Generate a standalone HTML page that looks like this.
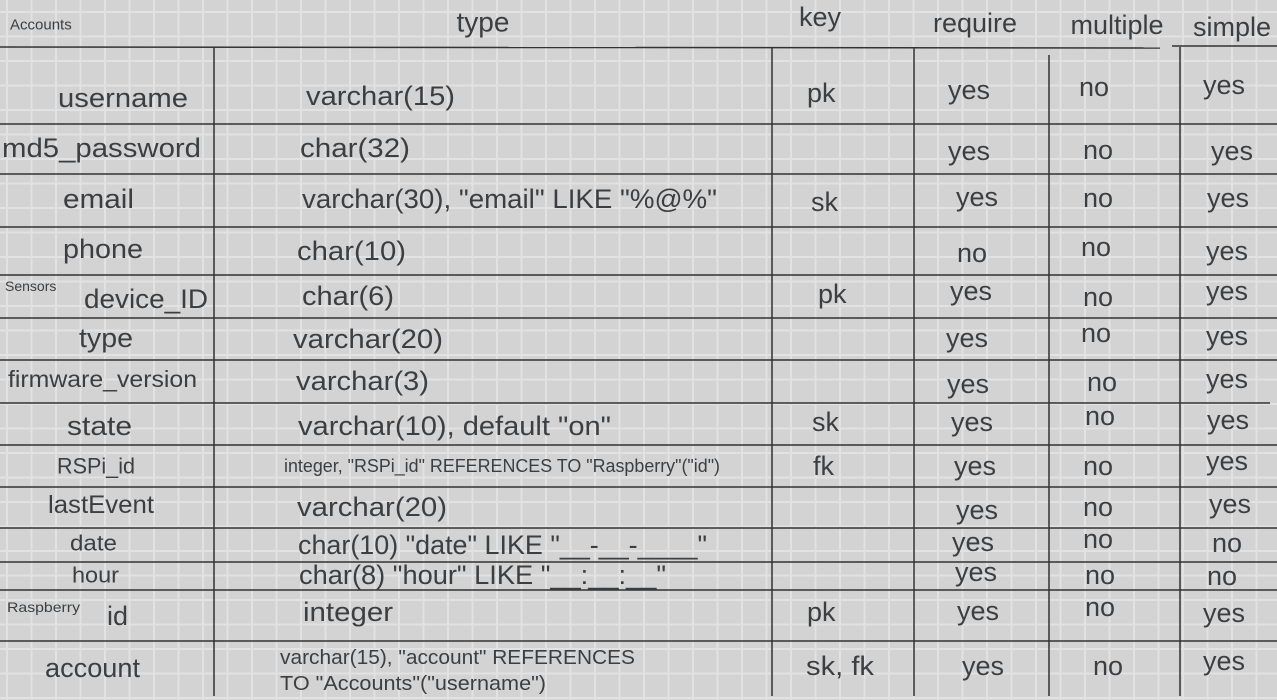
<!DOCTYPE html>
<html><head><meta charset="utf-8"><style>html,body{margin:0;padding:0;background:#d3d3d3}svg{display:block}</style></head>
<body>
<svg width="1277" height="700" viewBox="0 0 1277 700" xmlns="http://www.w3.org/2000/svg" font-family="Liberation Sans, sans-serif" fill="#3c3f42">
<defs>
<pattern id="g" x="6" y="11" width="24.5" height="24.5" patternUnits="userSpaceOnUse">
<rect width="24.5" height="24.5" fill="#d3d3d3"/>
<rect x="0" y="0" width="2" height="24.5" fill="#e2e2e2"/>
<rect x="0" y="0" width="24.5" height="2" fill="#e2e2e2"/>
</pattern>
</defs>
<rect width="1277" height="700" fill="url(#g)"/>
<g stroke="#333" stroke-width="1.5" fill="none">
<line x1="0" y1="47" x2="1160" y2="48"/><line x1="1172" y1="46" x2="1277" y2="46"/>
<line x1="0" y1="124" x2="1277" y2="124"/>
<line x1="0" y1="174" x2="1277" y2="174"/>
<line x1="0" y1="227" x2="1277" y2="227"/>
<line x1="0" y1="275" x2="1277" y2="275"/>
<line x1="0" y1="318" x2="1277" y2="318"/>
<line x1="0" y1="360" x2="1277" y2="360"/>
<line x1="0" y1="403" x2="1270" y2="403"/>
<line x1="0" y1="445" x2="1277" y2="445"/>
<line x1="0" y1="487" x2="1277" y2="487"/>
<line x1="0" y1="528" x2="1277" y2="528"/>
<line x1="0" y1="562" x2="1277" y2="562"/>
<line x1="0" y1="590" x2="1277" y2="590"/>
<line x1="0" y1="641" x2="1277" y2="641"/>
<line x1="214" y1="47" x2="214" y2="696"/>
<line x1="772" y1="47" x2="772" y2="696"/>
<line x1="914" y1="47" x2="914" y2="696"/>
<line x1="1049" y1="55" x2="1049" y2="696"/>
<line x1="1180" y1="47" x2="1180" y2="696"/>
</g>
<g dominant-baseline="central">
<text x="10" y="25" font-size="15">Accounts</text>
<text x="483" y="22" font-size="28" text-anchor="middle">type</text>
<text x="820" y="17" font-size="27" text-anchor="middle">key</text>
<text x="975" y="23" font-size="27" text-anchor="middle">require</text>
<text x="1117" y="25" font-size="27" text-anchor="middle">multiple</text>
<text x="1232" y="27" font-size="27" text-anchor="middle">simple</text>

<g font-size="27">
<text x="58" y="98" textLength="130" lengthAdjust="spacingAndGlyphs">username</text>
<text x="2" y="148" textLength="199" lengthAdjust="spacingAndGlyphs">md5_password</text>
<text x="63" y="199" textLength="71" lengthAdjust="spacingAndGlyphs">email</text>
<text x="63" y="249" textLength="80" lengthAdjust="spacingAndGlyphs">phone</text>
<text x="84" y="299" textLength="124" lengthAdjust="spacingAndGlyphs">device_ID</text>
<text x="79" y="338" textLength="54" lengthAdjust="spacingAndGlyphs">type</text>
<text x="8" y="379" font-size="23" textLength="189" lengthAdjust="spacingAndGlyphs">firmware_version</text>
<text x="67" y="426" textLength="65" lengthAdjust="spacingAndGlyphs">state</text>
<text x="57" y="466" font-size="22" textLength="78" lengthAdjust="spacingAndGlyphs">RSPi_id</text>
<text x="48" y="505" font-size="25" textLength="106" lengthAdjust="spacingAndGlyphs">lastEvent</text>
<text x="70" y="543" font-size="22" textLength="47" lengthAdjust="spacingAndGlyphs">date</text>
<text x="72" y="575" font-size="22" textLength="47" lengthAdjust="spacingAndGlyphs">hour</text>
<text x="107" y="616" textLength="21" lengthAdjust="spacingAndGlyphs">id</text>
<text x="45" y="668" textLength="95" lengthAdjust="spacingAndGlyphs">account</text>
</g>
<text x="5" y="286" font-size="14">Sensors</text>
<text x="7" y="607" font-size="14" textLength="73" lengthAdjust="spacingAndGlyphs">Raspberry</text>

<g font-size="27">
<text x="306" y="96" textLength="149" lengthAdjust="spacingAndGlyphs">varchar(15)</text>
<text x="300" y="148" textLength="110" lengthAdjust="spacingAndGlyphs">char(32)</text>
<text x="302" y="199" textLength="415" lengthAdjust="spacingAndGlyphs">varchar(30), "email" LIKE "%@%"</text>
<text x="297" y="251" textLength="109" lengthAdjust="spacingAndGlyphs">char(10)</text>
<text x="302" y="296" textLength="92" lengthAdjust="spacingAndGlyphs">char(6)</text>
<text x="293" y="339" textLength="150" lengthAdjust="spacingAndGlyphs">varchar(20)</text>
<text x="296" y="381" textLength="133" lengthAdjust="spacingAndGlyphs">varchar(3)</text>
<text x="298" y="426" textLength="313" lengthAdjust="spacingAndGlyphs">varchar(10), default "on"</text>
<text x="284" y="466" font-size="18" textLength="436" lengthAdjust="spacingAndGlyphs">integer, "RSPi_id" REFERENCES TO "Raspberry"("id")</text>
<text x="297" y="507" textLength="150" lengthAdjust="spacingAndGlyphs">varchar(20)</text>
<text x="298" y="545" textLength="409" lengthAdjust="spacingAndGlyphs">char(10) "date" LIKE "__-__-____"</text>
<text x="299" y="575" textLength="367" lengthAdjust="spacingAndGlyphs">char(8) "hour" LIKE "__:__:__"</text>
<text x="303" y="612" textLength="90" lengthAdjust="spacingAndGlyphs">integer</text>
<text x="280" y="658" font-size="20" textLength="355" lengthAdjust="spacingAndGlyphs">varchar(15), "account" REFERENCES</text>
<text x="280" y="684" font-size="20" textLength="266" lengthAdjust="spacingAndGlyphs">TO "Accounts"("username")</text>
</g>

<g font-size="27">
<text x="807" y="93">pk</text>
<text x="811" y="202">sk</text>
<text x="818" y="294">pk</text>
<text x="812" y="422">sk</text>
<text x="813" y="466">fk</text>
<text x="807" y="612">pk</text>
<text x="806" y="666" textLength="68" lengthAdjust="spacingAndGlyphs">sk, fk</text>
</g>

<g font-size="27">
<text x="948" y="90">yes</text>
<text x="948" y="151">yes</text>
<text x="956" y="197">yes</text>
<text x="957" y="253">no</text>
<text x="950" y="291">yes</text>
<text x="946" y="338">yes</text>
<text x="947" y="384">yes</text>
<text x="951" y="422">yes</text>
<text x="954" y="466">yes</text>
<text x="956" y="510">yes</text>
<text x="952" y="542">yes</text>
<text x="955" y="572">yes</text>
<text x="957" y="611">yes</text>
<text x="962" y="666">yes</text>
</g>

<g font-size="27">
<text x="1079" y="87">no</text>
<text x="1083" y="150">no</text>
<text x="1083" y="198">no</text>
<text x="1081" y="247">no</text>
<text x="1083" y="297">no</text>
<text x="1081" y="333">no</text>
<text x="1087" y="382">no</text>
<text x="1085" y="416">no</text>
<text x="1083" y="466">no</text>
<text x="1083" y="507">no</text>
<text x="1083" y="539">no</text>
<text x="1085" y="575">no</text>
<text x="1085" y="607">no</text>
<text x="1093" y="666">no</text>
</g>

<g font-size="27">
<text x="1203" y="85">yes</text>
<text x="1211" y="151">yes</text>
<text x="1207" y="198">yes</text>
<text x="1206" y="251">yes</text>
<text x="1206" y="291">yes</text>
<text x="1206" y="336">yes</text>
<text x="1206" y="379">yes</text>
<text x="1207" y="420">yes</text>
<text x="1206" y="461">yes</text>
<text x="1209" y="504">yes</text>
<text x="1212" y="543">no</text>
<text x="1207" y="576">no</text>
<text x="1203" y="613">yes</text>
<text x="1203" y="661">yes</text>
</g>
</g>
</svg>
</body></html>
